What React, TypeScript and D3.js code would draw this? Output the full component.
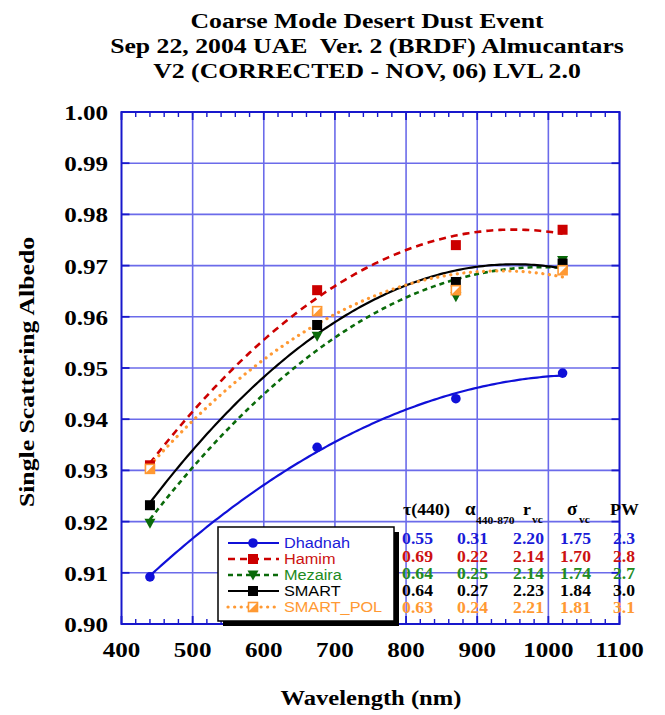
import React from "react";
import * as d3 from "d3";

const wavelengths = [440, 675, 870, 1020];
const seriesNames = ["Dhadnah", "Hamim", "Mezaira", "SMART", "SMART_POL"];
const dhadnah = [0.9092, 0.9345, 0.9440, 0.9490];
const hamim = [0.9310, 0.9652, 0.9740, 0.9770];
const mezaira = [0.9197, 0.9562, 0.9639, 0.9710];
const smart = [0.9232, 0.9584, 0.9668, 0.9704];
const smartPol = [0.9303, 0.9611, 0.9652, 0.9691];

const xTicks = [400, 500, 600, 700, 800, 900, 1000, 1100];
const yTicks = [0.9, 0.91, 0.92, 0.93, 0.94, 0.95, 0.96, 0.97, 0.98, 0.99, 1.0];

const tableTau = ["0.55", "0.69", "0.64", "0.64", "0.63"];
const tableAlpha = ["0.31", "0.22", "0.25", "0.27", "0.24"];
const tableR = ["2.20", "2.14", "2.14", "2.23", "2.21"];
const tableSigma = ["1.75", "1.70", "1.74", "1.84", "1.81"];
const tablePW = ["2.3", "2.8", "2.7", "3.0", "3.1"];

const titleLines = [
  "Coarse Mode Desert Dust Event",
  "Sep 22, 2004 UAE  Ver. 2 (BRDF) Almucantars",
  "V2 (CORRECTED - NOV, 06) LVL 2.0",
];

const seriesValues = [dhadnah, hamim, mezaira, smart, smartPol];
const styles = [
  { color: "#1010d8", text: "#1a1ad8", dash: "", width: 2.2, marker: "circle", cap: "butt" },
  { color: "#cc0000", text: "#cc1111", dash: "7,5", width: 2.6, marker: "square", cap: "butt" },
  { color: "#0a6a0a", text: "#228b22", dash: "5,4", width: 2.6, marker: "triangle", cap: "butt" },
  { color: "#000000", text: "#000000", dash: "", width: 2.2, marker: "square", cap: "butt" },
  { color: "#ff9933", text: "#ff9933", dash: "0.1,6.5", width: 3.2, marker: "half", cap: "round" },
];

function quadFit(xs: number[], ys: number[]) {
  const t = xs.map((x) => (x - 700) / 300);
  const S = [[0, 0, 0], [0, 0, 0], [0, 0, 0]];
  const B = [0, 0, 0];
  for (let i = 0; i < t.length; i++) {
    const p = [1, t[i], t[i] * t[i]];
    for (let r = 0; r < 3; r++) {
      B[r] += p[r] * ys[i];
      for (let c = 0; c < 3; c++) S[r][c] += p[r] * p[c];
    }
  }
  const M = S.map((row, i) => [...row, B[i]]);
  for (let i = 0; i < 3; i++) {
    let piv = i;
    for (let k = i + 1; k < 3; k++) if (Math.abs(M[k][i]) > Math.abs(M[piv][i])) piv = k;
    [M[i], M[piv]] = [M[piv], M[i]];
    for (let k = i + 1; k < 3; k++) {
      const f = M[k][i] / M[i][i];
      for (let c = i; c < 4; c++) M[k][c] -= f * M[i][c];
    }
  }
  const co = [0, 0, 0];
  for (let i = 2; i >= 0; i--) {
    let s = M[i][3];
    for (let c = i + 1; c < 3; c++) s -= M[i][c] * co[c];
    co[i] = s / M[i][i];
  }
  return (x: number) => {
    const tt = (x - 700) / 300;
    return co[0] + co[1] * tt + co[2] * tt * tt;
  };
}

const SERIF = "'Liberation Serif', 'Times New Roman', serif";
const SANS = "'Liberation Sans', Arial, sans-serif";

function SText(props: { x: number; y: number; sx?: number; anchor?: string; size: number; fill?: string; children: any; rotate?: boolean; family?: string; weight?: string }) {
  const { x, y, sx = 1.15, anchor = "start", size, fill = "#000", children, rotate, family = SERIF, weight = "bold" } = props;
  const tr = rotate ? `translate(${x},${y}) rotate(-90) scale(${sx},1)` : `translate(${x},${y}) scale(${sx},1)`;
  return (
    <text transform={tr} textAnchor={anchor} fontSize={size} fontFamily={family} fontWeight={weight} fill={fill}
      style={{ whiteSpace: "pre" }}>
      {children}
    </text>
  );
}

function Marker({ type, cx, cy, color }: { type: string; cx: number; cy: number; color: string }) {
  if (type === "circle") return <circle cx={cx} cy={cy} r={4.8} fill={color} />;
  if (type === "square") return <rect x={cx - 5} y={cy - 5} width={10} height={10} fill={color} />;
  if (type === "triangle")
    return <path d={`M${cx - 5.5},${cy - 4.5} L${cx + 5.5},${cy - 4.5} L${cx},${cy + 5.5} Z`} fill={color} />;
  return (
    <g>
      <rect x={cx - 4.5} y={cy - 4.5} width={9} height={9} fill="#fff" stroke={color} strokeWidth={1.6} />
      <path d={`M${cx + 4.5},${cy - 4.5} L${cx + 4.5},${cy + 4.5} L${cx - 4.5},${cy + 4.5} Z`} fill={color} />
    </g>
  );
}

export default function App() {
  const W = 665, H = 715;
  const x = d3.scaleLinear().domain([400, 1100]).range([121.5, 619.5]);
  const y = d3.scaleLinear().domain([0.9, 1.0]).range([624, 112]);
  const gridColor = "#6b6bea";
  const axisColor = "#1818cc";
  const minorTicks = d3.range(400, 1101, 20).filter((v) => v % 100 !== 0);

  const fits = seriesValues.map((vals) => {
    const f = quadFit(wavelengths, vals);
    const pts = d3.range(440, 1020.1, 4).map((w) => [w, f(w)] as [number, number]);
    return d3.line<[number, number]>().x((d) => x(d[0])).y((d) => y(d[1])).curve(d3.curveLinear)(pts) || "";
  });

  const rowsY = [544, 561.5, 579, 596, 613];
  const tableCols = [
    { vals: tableTau, x: 433 },
    { vals: tableAlpha, x: 488 },
    { vals: tableR, x: 544 },
    { vals: tableSigma, x: 591 },
    { vals: tablePW, x: 635 },
  ];

  const legX = 218, legY = 527, legW = 176, legH = 94;

  return (
    <svg width={W} height={H} style={{ position: "absolute", left: 0, top: 0, background: "#fff" }}>
      <rect x={0} y={0} width={W} height={H} fill="#fff" />
      {titleLines.map((t, i) => (
        <SText key={i} x={367} y={28 + i * 25} anchor="middle" size={22} sx={1.17}>
          {t}
        </SText>
      ))}

      {xTicks.slice(1, -1).map((v) => (
        <line key={"gx" + v} x1={x(v)} x2={x(v)} y1={y(1.0)} y2={y(0.9)} stroke={gridColor} strokeWidth={1.6} />
      ))}
      {yTicks.slice(1, -1).map((v) => (
        <line key={"gy" + v} x1={x(400)} x2={x(1100)} y1={y(v)} y2={y(v)} stroke={gridColor} strokeWidth={1.6} />
      ))}
      {minorTicks.map((v) => (
        <g key={"mt" + v}>
          <line x1={x(v)} x2={x(v)} y1={y(0.9)} y2={y(0.9) - 5} stroke={axisColor} strokeWidth={1.4} />
          <line x1={x(v)} x2={x(v)} y1={y(1.0)} y2={y(1.0) + 5} stroke={axisColor} strokeWidth={1.4} />
        </g>
      ))}
      {xTicks.map((v) => (
        <g key={"Mt" + v}>
          <line x1={x(v)} x2={x(v)} y1={y(0.9)} y2={y(0.9) - 8} stroke={axisColor} strokeWidth={1.8} />
          <line x1={x(v)} x2={x(v)} y1={y(1.0)} y2={y(1.0) + 8} stroke={axisColor} strokeWidth={1.8} />
        </g>
      ))}
      {yTicks.map((v) => (
        <g key={"yt" + v}>
          <line x1={x(400)} x2={x(400) + 8} y1={y(v)} y2={y(v)} stroke={axisColor} strokeWidth={1.8} />
          <line x1={x(1100)} x2={x(1100) - 8} y1={y(v)} y2={y(v)} stroke={axisColor} strokeWidth={1.8} />
        </g>
      ))}
      <rect x={x(400)} y={y(1.0)} width={x(1100) - x(400)} height={y(0.9) - y(1.0)} fill="none" stroke={axisColor} strokeWidth={2} />

      {fits.map((d, i) => (
        <path key={"fit" + i} d={d} fill="none" stroke={styles[i].color} strokeWidth={styles[i].width}
          strokeDasharray={styles[i].dash || undefined} strokeLinecap={styles[i].cap as any} />
      ))}
      {seriesValues.map((vals, i) =>
        vals.map((v, j) => (
          <Marker key={"m" + i + "-" + j} type={styles[i].marker} cx={x(wavelengths[j])} cy={y(v)} color={styles[i].color} />
        ))
      )}

      {yTicks.map((v) => (
        <SText key={"yl" + v} x={108} y={y(v) + 8} anchor="end" size={22} sx={1.14}>
          {v.toFixed(2)}
        </SText>
      ))}
      {xTicks.map((v) => (
        <SText key={"xl" + v} x={x(v)} y={657} anchor="middle" size={22} sx={1.14}>
          {String(v)}
        </SText>
      ))}
      <SText x={371} y={705} anchor="middle" size={21} sx={1.17}>Wavelength (nm)</SText>
      <SText x={34} y={372} anchor="middle" size={22} sx={1.17} rotate>Single Scattering Albedo</SText>

      <rect x={legX + 5} y={legY + 5} width={legW} height={legH} fill="#000" />
      <rect x={legX} y={legY} width={legW} height={legH} fill="#fff" stroke="#000" strokeWidth={1.5} />
      {seriesNames.map((n, i) => {
        const ly = 543 + i * 16;
        return (
          <g key={"leg" + i}>
            <line x1={228} x2={279} y1={ly} y2={ly} stroke={styles[i].color} strokeWidth={styles[i].width}
              strokeDasharray={styles[i].dash || undefined} strokeLinecap={styles[i].cap as any} />
            <Marker type={styles[i].marker} cx={253} cy={ly} color={styles[i].color} />
            <text x={284} y={ly + 5.5} fontFamily={SANS} fontSize={15.5} transform={`translate(284,0) scale(1.05,1) translate(-284,0)`}
              fill={styles[i].text}>{n}</text>
          </g>
        );
      })}

      <SText x={403} y={515} size={17} sx={1.05}>τ(440)</SText>
      <SText x={465} y={515} size={18} sx={1.05}>α</SText>
      <SText x={476} y={524} size={11} sx={1.05}>440-870</SText>
      <SText x={523} y={515} size={17} sx={1.05}>r</SText>
      <SText x={532} y={523} size={11} sx={1.05}>vc</SText>
      <SText x={567} y={515} size={18} sx={1.05}>σ</SText>
      <SText x={579} y={523} size={11} sx={1.05}>vc</SText>
      <SText x={610} y={515} size={17} sx={1.05}>PW</SText>
      {tableCols.map((c, ci) =>
        c.vals.map((v, ri) => (
          <SText key={"t" + ci + "-" + ri} x={c.x} y={rowsY[ri]} anchor="end" size={16.5} sx={1.07} fill={styles[ri].text}>
            {v}
          </SText>
        ))
      )}
    </svg>
  );
}
